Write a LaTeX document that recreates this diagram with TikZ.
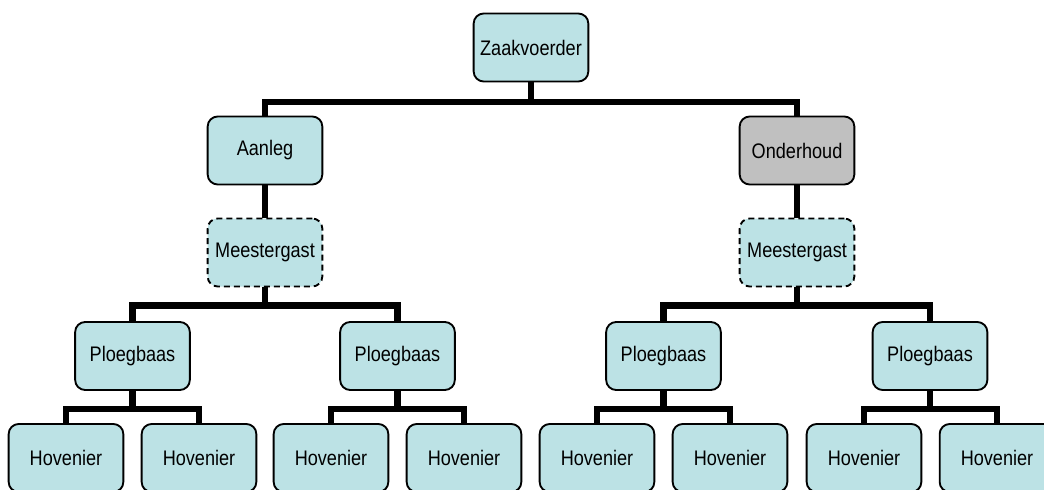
\documentclass[tikz,border=0pt]{standalone}
\usepackage{fontspec}
\setmainfont{Liberation Sans}
\newfontfamily\boxfont[FakeStretch=0.86]{Liberation Sans}
\definecolor{boxfill}{RGB}{188,226,229}
\definecolor{greyfill}{RGB}{192,192,192}
\begin{document}
\begin{tikzpicture}[x=0.75pt,y=-0.75pt,
  box/.style={draw=black, line width=1.4pt, fill=boxfill, rounded corners=7.5pt,
    minimum width=86pt, minimum height=51pt, inner sep=0pt, font=\boxfont\fontsize{15.8}{18}\selectfont},
  greybox/.style={box, fill=greyfill},
  dashbox/.style={box, dash pattern=on 4.5pt off 3pt},
  conn/.style={draw=black, line width=4.6pt}]
\useasboundingbox (0,0) rectangle (1044,489);
\clip (0,0) rectangle (1044,489);
\node[box] (z) at (531,47.5) {Zaakvoerder};
\node[box] (a) at (265,150.5) {Aanleg};
\node[greybox] (o) at (797,150.5) {Onderhoud};
\node[dashbox] (ma) at (265,252.5) {Meestergast};
\node[dashbox] (mo) at (797,252.5) {Meestergast};
\node[box] (p1) at (132.5,356) {Ploegbaas};
\node[box] (p2) at (397.5,356) {Ploegbaas};
\node[box] (p3) at (663.5,356) {Ploegbaas};
\node[box] (p4) at (930,356) {Ploegbaas};
\node[box] (h1) at (66,458) {Hovenier};
\node[box] (h2) at (199,458) {Hovenier};
\node[box] (h3) at (331,458) {Hovenier};
\node[box] (h4) at (464,458) {Hovenier};
\node[box] (h5) at (597,458) {Hovenier};
\node[box] (h6) at (730,458) {Hovenier};
\node[box] (h7) at (864,458) {Hovenier};
\node[box] (h8) at (997,458) {Hovenier};
\path[conn] (z.south) -- ++(0,19.5) -| (a.north);
\path[conn] (z.south) -- ++(0,19.5) -| (o.north);
\path[conn] (a.south) -- (ma.north);
\path[conn] (o.south) -- (mo.north);
\path[conn] (ma.south) -- ++(0,18) -| (p1.north);
\path[conn] (ma.south) -- ++(0,18) -| (p2.north);
\path[conn] (mo.south) -- ++(0,18) -| (p3.north);
\path[conn] (mo.south) -- ++(0,18) -| (p4.north);
\path[conn] (p1.south) -- ++(0,18) -| (h1.north);
\path[conn] (p1.south) -- ++(0,18) -| (h2.north);
\path[conn] (p2.south) -- ++(0,18) -| (h3.north);
\path[conn] (p2.south) -- ++(0,18) -| (h4.north);
\path[conn] (p3.south) -- ++(0,18) -| (h5.north);
\path[conn] (p3.south) -- ++(0,18) -| (h6.north);
\path[conn] (p4.south) -- ++(0,18) -| (h7.north);
\path[conn] (p4.south) -- ++(0,18) -| (h8.north);
\end{tikzpicture}
\end{document}
